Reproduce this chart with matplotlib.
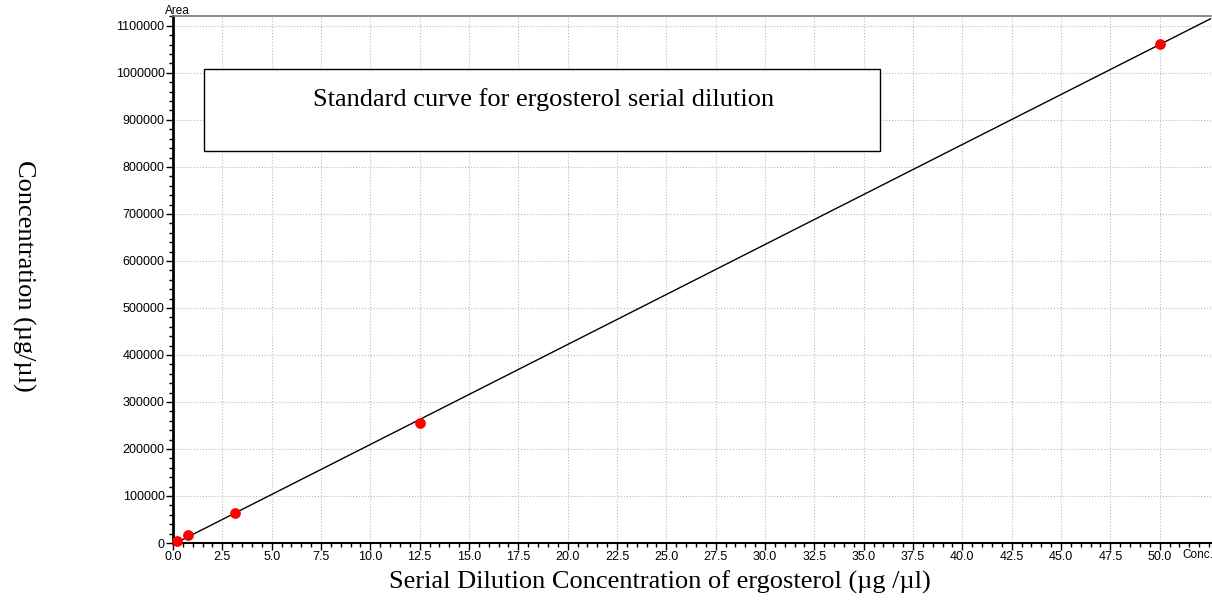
import numpy as np
import matplotlib
matplotlib.use("Agg")
import matplotlib.pyplot as plt
from matplotlib.ticker import MultipleLocator

conc = [0.195, 0.78125, 3.125, 12.5, 50.0]
area = [4000, 16000, 63000, 256000, 1062000]
xticks = np.arange(0, 50.01, 2.5)
yticks = np.arange(0, 1100001, 100000)
title_text = "Standard curve for ergosterol serial dilution"
xlabel = "Serial Dilution Concentration of ergosterol (\u00b5g /\u00b5l)"
ylabel = "Concentration (\u00b5g/\u00b5l)"

fig = plt.figure(figsize=(12.12, 6.0), dpi=100)
ax = fig.add_axes([173/1212, 1-543/600, (1211-173)/1212, (543-16)/600])

xmax = 52.6
ymax = 1121000
ax.set_xlim(0, xmax)
ax.set_ylim(0, ymax)

slope, intercept = np.polyfit(conc, area, 1)
xl = np.array([0.0, xmax])
ax.plot(xl, slope*xl + intercept, color='black', lw=1.0, zorder=3)
ax.scatter(conc, area, s=45, color='red', zorder=4, clip_on=False)

ax.set_xticks(xticks)
ax.set_xticklabels([f"{v:.1f}" for v in xticks])
ax.set_yticks(yticks)
ax.set_yticklabels([f"{int(v)}" for v in yticks])
ax.xaxis.set_minor_locator(MultipleLocator(0.5))
ax.yaxis.set_minor_locator(MultipleLocator(20000))
ax.tick_params(which='major', direction='out', length=5, width=1, labelsize=9, pad=1)
ax.tick_params(which='minor', direction='out', length=3, width=1)
for lab in ax.get_xticklabels() + ax.get_yticklabels():
    lab.set_fontfamily('Liberation Sans')

ax.grid(True, which='major', color='#bbbbbb', linestyle=':', lw=0.8)
ax.spines['left'].set_linewidth(2)
ax.spines['bottom'].set_linewidth(1.5)
ax.spines['top'].set_color('#777777')
ax.spines['top'].set_linewidth(1.2)
ax.spines['right'].set_visible(False)

fig.text(165/1212, 1-11/600, "Area", fontsize=8.5,
         family='Liberation Sans', ha='left', va='center')
fig.text(1182/1212, 1-555/600, "Conc.", fontsize=8.5,
         family='Liberation Sans', ha='left', va='center')

# Title box
bx0, bx1 = 204/1212, 880/1212
by0, by1 = 1-151/600, 1-69/600
fig.patches.append(plt.Rectangle((bx0, by0), bx1-bx0, by1-by0, transform=fig.transFigure,
                                 fill=True, facecolor='white', edgecolor='black', lw=1.0, zorder=5))
fig.text(544/1212, 1-100/600, title_text, ha='center', va='center',
         family='Liberation Serif', fontsize=19, zorder=6)

fig.text(660/1212, 1-582/600, xlabel, ha='center', va='center',
         family='Liberation Serif', fontsize=19)
fig.text(24/1212, 1-276/600, ylabel, ha='center', va='center', rotation=270,
         family='Liberation Serif', fontsize=19)

fig.savefig("out.png", dpi=100)
